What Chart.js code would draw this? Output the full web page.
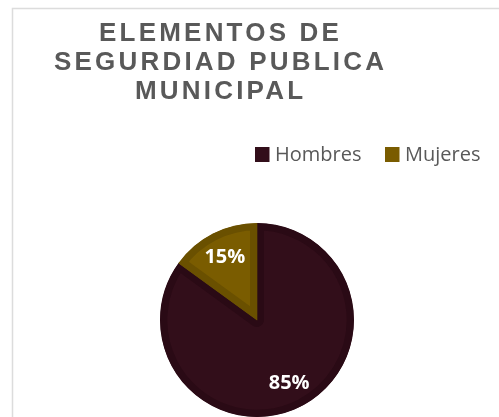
<!DOCTYPE html>
<html>
<head>
<meta charset="utf-8">
<script src="https://cdn.jsdelivr.net/npm/chart.js@4/dist/chart.umd.min.js"></script>
<style>
  html, body { margin: 0; padding: 0; background: #ffffff; }
  #wrap { position: relative; width: 499px; height: 417px; }
</style>
</head>
<body>
<div id="wrap"><canvas id="myChart" width="499" height="417"></canvas></div>
<script>
// Chart data
var titleLines = ["ELEMENTOS DE", "SEGURDIAD PUBLICA", "MUNICIPAL"];
var categories = ["Hombres", "Mujeres"];
var values = [85, 15];
var fillColors = ["#320e1a", "#7a5c00"];
var rimColors = ["#2a0a15", "#6a5000"];

// Frame lines, title and legend drawn on the canvas
var decorations = {
  id: "decorations",
  beforeDraw: function (chart) {
    var ctx = chart.ctx;
    ctx.save();
    ctx.strokeStyle = "#dcdcdc";
    ctx.lineWidth = 1.5;
    ctx.beginPath();
    ctx.moveTo(12.5, 417);
    ctx.lineTo(12.5, 8.5);
    ctx.lineTo(499, 8.5);
    ctx.stroke();

    // title (letter spaced, centre shifted by half the trailing gap)
    var spacing = 3.2;
    ctx.fillStyle = "#595959";
    ctx.font = "bold 26px 'Liberation Sans', Arial, sans-serif";
    ctx.letterSpacing = spacing + "px";
    ctx.textAlign = "center";
    ctx.textBaseline = "alphabetic";
    var baselines = [41, 70, 99];
    titleLines.forEach(function (line, i) {
      ctx.fillText(line, 219 + spacing / 2, baselines[i]);
    });
    ctx.letterSpacing = "0px";

    // legend
    var boxX = [255, 385];
    ctx.font = "20px 'Open Sans', sans-serif";
    ctx.textAlign = "left";
    categories.forEach(function (name, i) {
      ctx.fillStyle = fillColors[i];
      ctx.fillRect(boxX[i], 147, 14.5, 15);
      ctx.fillStyle = "#595959";
      ctx.fillText(name, boxX[i] + 20, 161);
    });
    ctx.restore();
  },
  afterDatasetsDraw: function (chart) {
    var ctx = chart.ctx;
    var meta = chart.getDatasetMeta(0);
    var total = values.reduce(function (a, b) { return a + b; }, 0);
    ctx.save();
    ctx.fillStyle = "#ffffff";
    ctx.font = "bold 20px 'Open Sans', sans-serif";
    ctx.textAlign = "center";
    ctx.textBaseline = "middle";
    meta.data.forEach(function (arc, i) {
      var p = arc.getProps(["x", "y", "startAngle", "endAngle", "outerRadius"], true);
      var mid = (p.startAngle + p.endAngle) / 2;
      var r = p.outerRadius * 0.73;
      var pct = Math.round(values[i] / total * 100) + "%";
      ctx.fillText(pct, p.x + Math.cos(mid) * r, p.y + Math.sin(mid) * r);
    });
    ctx.restore();
  }
};

var myChart = document.getElementById("myChart").getContext("2d");
var chart = new Chart(myChart, {
  type: "pie",
  data: {
    labels: categories,
    datasets: [
      {
        data: values,
        backgroundColor: fillColors,
        borderColor: rimColors,
        borderWidth: 7,
        borderAlign: "inner",
        hoverOffset: 0
      }
    ]
  },
  options: {
    responsive: false,
    animation: false,
    events: [],
    layout: {
      padding: { left: 160, right: 145, top: 223, bottom: 0 }
    },
    plugins: {
      legend: { display: false },
      title: { display: false },
      tooltip: { enabled: false }
    }
  },
  plugins: [decorations]
});
</script>
</body>
</html>
